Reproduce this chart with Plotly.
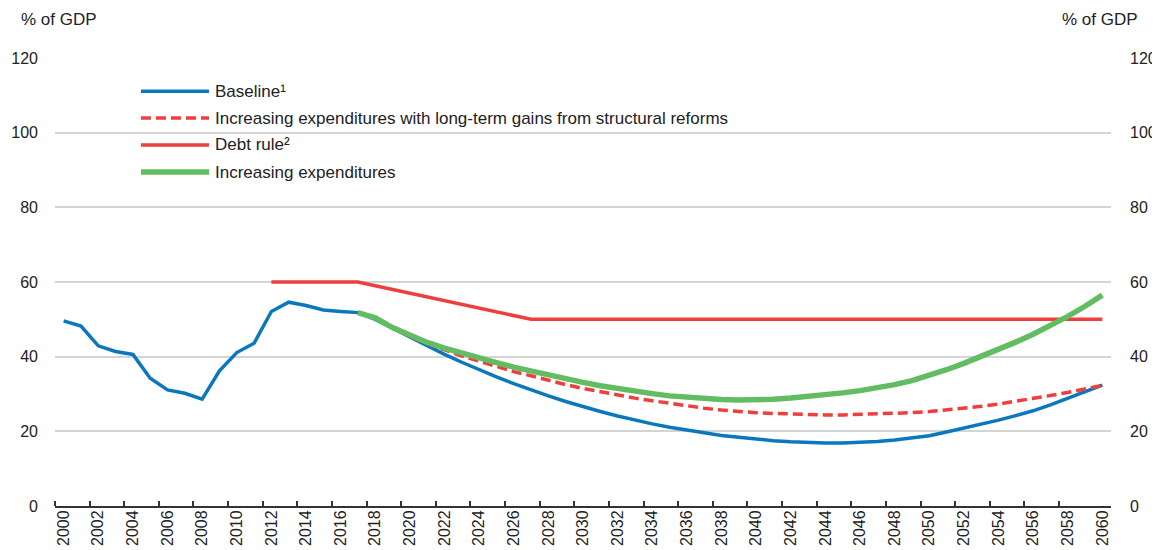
import plotly.graph_objects as go

# ---- data ----
hist_years = list(range(2000, 2018))
baseline_hist = [49.6, 48.2, 42.9, 41.4, 40.6, 34.2, 31.1, 30.2, 28.6, 36.2,
                 41.1, 43.6, 52.1, 54.6, 53.7, 52.5, 52.1, 51.8]

proj_years = list(range(2017, 2061))
baseline_proj = [51.8, 50.0, 47.6, 45.2, 42.8, 40.6, 38.5, 36.5, 34.6, 32.8,
                 31.1, 29.5, 28.0, 26.6, 25.3, 24.1, 23.0, 22.0, 21.1, 20.3,
                 19.5, 18.9, 18.4, 17.9, 17.5, 17.2, 17.0, 16.9, 16.9, 17.0,
                 17.3, 17.7, 18.2, 18.8, 19.8, 20.8, 21.9, 23.0, 24.2, 25.5,
                 27.1, 28.8, 30.5, 32.4]
reforms_proj = [51.8, 50.3, 47.6, 45.4, 43.5, 41.8, 40.2, 38.8, 37.3, 36.0,
                34.9, 33.6, 32.5, 31.5, 30.6, 29.7, 28.9, 28.2, 27.5, 26.8,
                26.2, 25.7, 25.3, 25.0, 24.8, 24.6, 24.5, 24.4, 24.4, 24.5,
                24.6, 24.8, 25.0, 25.3, 25.7, 26.1, 26.7, 27.3, 28.0, 28.8,
                29.6, 30.4, 31.3, 32.3]
expend_proj = [51.8, 50.4, 47.8, 45.6, 43.8, 42.3, 40.9, 39.6, 38.4, 37.2,
               36.1, 35.0, 34.0, 33.1, 32.2, 31.4, 30.7, 30.1, 29.5, 29.1,
               28.7, 28.5, 28.4, 28.4, 28.6, 28.9, 29.3, 29.7, 30.3, 30.9,
               31.6, 32.5, 33.6, 35.0, 36.5, 38.2, 40.0, 41.9, 43.9, 46.0,
               48.2, 50.8, 53.5, 56.5]

rule_years = [2012, 2013, 2014, 2015, 2016, 2017, 2018, 2019, 2020, 2021, 2022,
              2023, 2024, 2025, 2026, 2027, 2060]
debt_rule = [60, 60, 60, 60, 60, 60, 59, 58, 57, 56, 55, 54, 53, 52, 51, 50, 50]

tick_years = list(range(2000, 2061, 2))
y_ticks = [0, 20, 40, 60, 80, 100, 120]

legend_labels = ["Baseline¹",
                 "Increasing expenditures with long-term gains from structural reforms",
                 "Debt rule²",
                 "Increasing expenditures"]

# ---- styles ----
BLUE = "#0b78be"
RED = "#ee3e3e"
GREEN = "#62bd62"
FONT = "Liberation Sans, Arial, sans-serif"
TXT = "#222222"

fig = go.Figure()
fig.add_trace(go.Scatter(x=hist_years + proj_years[1:],
                         y=baseline_hist + baseline_proj[1:],
                         mode="lines", line=dict(color=BLUE, width=3.5),
                         showlegend=False, hoverinfo="skip"))
fig.add_trace(go.Scatter(x=proj_years, y=reforms_proj, mode="lines",
                         line=dict(color=RED, width=3.5, dash="10px,5px"),
                         showlegend=False, hoverinfo="skip"))
fig.add_trace(go.Scatter(x=rule_years, y=debt_rule, mode="lines",
                         line=dict(color=RED, width=3.5),
                         showlegend=False, hoverinfo="skip"))
fig.add_trace(go.Scatter(x=proj_years, y=expend_proj, mode="lines",
                         line=dict(color=GREEN, width=5.5),
                         showlegend=False, hoverinfo="skip"))

# custom legend
leg_styles = [dict(color=BLUE, width=3.5),
              dict(color=RED, width=3.5, dash="10px,5px"),
              dict(color=RED, width=3.5),
              dict(color=GREEN, width=5.5)]
leg_y = [0.926, 0.866, 0.806, 0.7455]
for lab, st, yy in zip(legend_labels, leg_styles, leg_y):
    fig.add_shape(type="line", xref="paper", yref="paper",
                  x0=0.0814, x1=0.1458, y0=yy, y1=yy, line=st)
    fig.add_annotation(text=lab, xref="paper", yref="paper", x=0.1496, y=yy,
                       xanchor="left", yanchor="middle", showarrow=False,
                       font=dict(family=FONT, size=17, color=TXT))

for xx, anc in [(-0.0345, "left"), (1.0275, "right")]:
    fig.add_annotation(text="% of GDP", xref="paper", yref="paper", x=xx, y=1.085,
                       xanchor=anc, yanchor="middle", showarrow=False,
                       font=dict(family=FONT, size=17, color=TXT))

# page body has an 8px margin, so the figure is sized to fit inside the window
fig.update_layout(
    width=1152, height=542,
    margin=dict(l=47, r=49, t=50, b=44, autoexpand=False),
    plot_bgcolor="white", paper_bgcolor="white",
    font=dict(family=FONT, size=16, color=TXT),
    xaxis=dict(range=[1999.5, 2060.5], tickmode="array", tickvals=tick_years,
               ticktext=[str(t) for t in tick_years], tickangle=-90,
               tickfont=dict(size=16),
               ticks="", ticklabelstandoff=-4,
               showgrid=False, zeroline=False,
               showline=True, linecolor="#333333", linewidth=2,
               minor=dict(tickvals=[t - 0.5 for t in tick_years[:-1]],
                          ticks="inside", ticklen=5, tickwidth=1.5,
                          tickcolor="#333333", showgrid=False),
               fixedrange=True),
    yaxis=dict(range=[0, 120], tickvals=y_ticks, showgrid=True,
               gridcolor="#d4d4d4", gridwidth=1.5, zeroline=False,
               showline=False, ticks="", ticklabelstandoff=16, fixedrange=True),
    yaxis2=dict(range=[0, 120], tickvals=y_ticks, overlaying="y", side="right",
                showgrid=False, zeroline=False, showline=False, ticks="",
                ticklabelstandoff=18, fixedrange=True),
)
# invisible trace to ensure right axis renders
fig.add_trace(go.Scatter(x=[2000], y=[0], yaxis="y2", mode="markers",
                         marker=dict(opacity=0), showlegend=False, hoverinfo="skip"))

fig.write_html("out.html")
